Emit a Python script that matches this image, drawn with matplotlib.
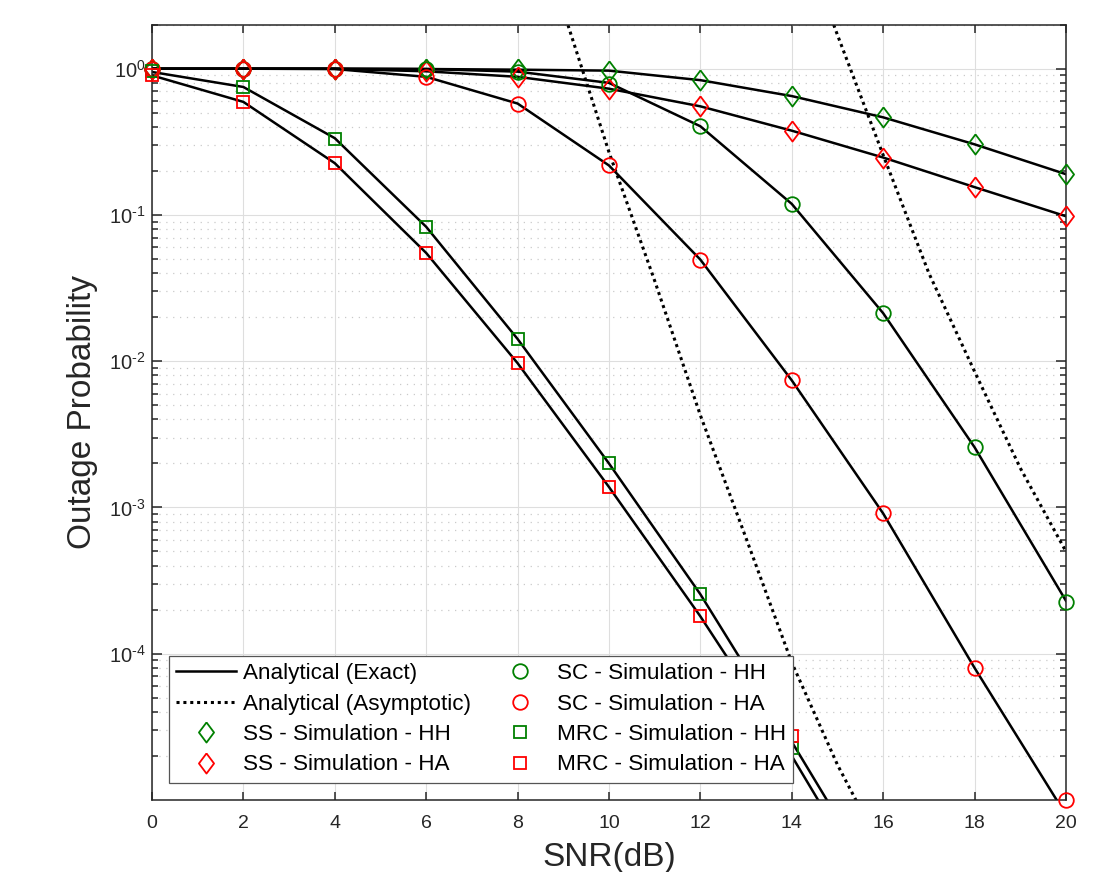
import matplotlib.pyplot as plt
import matplotlib.ticker as mticker
import numpy as np

plt.rcParams['font.family'] = ['Liberation Sans', 'DejaVu Sans']
plt.rcParams['mathtext.fontset'] = 'custom'
plt.rcParams['mathtext.rm'] = 'Liberation Sans'
plt.rcParams['mathtext.it'] = 'Liberation Sans:italic'
plt.rcParams['mathtext.default'] = 'regular'
plt.rcParams['axes.unicode_minus'] = False

# SNR grid (dB)
snr = [0, 2, 4, 6, 8, 10, 12, 14, 16, 18, 20]

# analytical (exact) curves
ss_hh_exact = [1.0, 1.0, 1.0, 0.995, 0.985, 0.97, 0.835, 0.65, 0.465, 0.304, 0.19]
ss_ha_exact = [1.0, 1.0, 0.998, 0.96, 0.88, 0.73, 0.553, 0.377, 0.247, 0.155, 0.098]
sc_hh_exact = [1.0, 1.0, 1.0, 0.995, 0.955, 0.80, 0.404, 0.119, 0.0213, 2.58e-3, 2.3e-4]
sc_ha_exact = [1.0, 1.0, 0.995, 0.88, 0.578, 0.218, 0.0495, 7.4e-3, 9.1e-4, 8.0e-5, 7.9e-6]
mrc_hh_exact = [0.95, 0.75, 0.335, 0.083, 0.0142, 2.0e-3, 2.55e-4, 2.5e-5, 2.3e-6, 2e-7, 2e-8]
mrc_ha_exact = [0.90, 0.593, 0.226, 0.055, 9.7e-3, 1.38e-3, 1.8e-4, 2.0e-5, 1.8e-6, 1.6e-7, 1.5e-8]

# analytical (asymptotic) curves
asym1_snr = [8, 9, 10, 11, 12, 13, 14, 15, 16]
asym1 = [23.4, 2.5, 0.269, 0.0355, 4.27e-3, 6.17e-4, 8.7e-5, 1.74e-5, 4.4e-6]
asym2_snr = [14, 15, 16, 17, 18, 19, 20]
asym2 = [12.0, 1.7, 0.257, 0.040, 8.5e-3, 1.86e-3, 5.0e-4]

# simulation points
ss_hh_sim = [1.0, 1.0, 1.0, 1.0, 0.99, 0.97, 0.835, 0.648, 0.465, 0.304, 0.19]
ss_ha_sim = [1.0, 1.0, 1.0, 0.96, 0.88, 0.73, 0.553, 0.377, 0.247, 0.155, 0.098]
sc_hh_sim = [1.0, 1.0, 1.0, 1.0, 0.95, 0.79, 0.404, 0.119, 0.0213, 2.58e-3, 2.25e-4]
sc_ha_sim = [1.0, 1.0, 1.0, 0.88, 0.578, 0.219, 0.0493, 7.4e-3, 9.1e-4, 8.0e-5, 1.0e-5]
mrc_snr = [0, 2, 4, 6, 8, 10, 12, 14]
mrc_hh_sim = [0.97, 0.75, 0.333, 0.0825, 0.0142, 2.0e-3, 2.58e-4, 2.25e-5]
mrc_ha_sim = [0.90, 0.593, 0.226, 0.055, 9.7e-3, 1.39e-3, 1.8e-4, 2.72e-5]

green = (0, 0.5, 0)
red = (1, 0, 0)
dark = '#262626'
# matlab style diamond (a bit wider than matplotlib 'd')
diamond = [(0, 1), (0.75, 0), (0, -1), (-0.75, 0), (0, 1)]


def pow10(v, pos):
    e = int(round(np.log10(v)))
    if e < 0:
        return r'$10^{\text{-}%d}$' % (-e)
    return r'$10^{%d}$' % e


fig = plt.figure(figsize=(11.02, 8.72), dpi=100)
ax = fig.add_axes([0.1379, 0.0826, 0.8294, 0.8891])

# exact lines
h_exact, = ax.plot(snr, ss_hh_exact, 'k-', lw=1.8, label='Analytical (Exact)')
for y in [ss_ha_exact, sc_hh_exact, sc_ha_exact, mrc_hh_exact, mrc_ha_exact]:
    ax.plot(snr, y, 'k-', lw=1.8)

# asymptotic lines
dots = (0, (1, 1.25))
h_asym, = ax.plot(asym1_snr, asym1, color='k', lw=2.2, ls=dots,
                  label='Analytical (Asymptotic)')
ax.plot(asym2_snr, asym2, color='k', lw=2.2, ls=dots)

# simulation markers
mk = dict(ls='none', mfc='none', mew=1.3, zorder=4, clip_on=False)
h1, = ax.plot(snr, ss_hh_sim, marker=diamond, ms=14.5, mec=green, label='SS - Simulation - HH', **mk)
h2, = ax.plot(snr, ss_ha_sim, marker=diamond, ms=14.5, mec=red, label='SS - Simulation - HA', **mk)
h3, = ax.plot(snr, sc_hh_sim, marker='o', ms=10.5, mec=green, label='SC - Simulation - HH', **mk)
h4, = ax.plot(snr, sc_ha_sim, marker='o', ms=10.5, mec=red, label='SC - Simulation - HA', **mk)
h5, = ax.plot(mrc_snr, mrc_hh_sim, marker='s', ms=9.3, mec=green, label='MRC - Simulation - HH', **mk)
h6, = ax.plot(mrc_snr, mrc_ha_sim, marker='s', ms=9.3, mec=red, label='MRC - Simulation - HA', **mk)

ax.set_yscale('log')
ax.set_xlim(0, 20)
ax.set_ylim(1e-5, 2)
ax.set_xticks(range(0, 21, 2))
ax.xaxis.set_minor_locator(mticker.NullLocator())
ax.yaxis.set_major_locator(mticker.FixedLocator([1e-4, 1e-3, 1e-2, 1e-1, 1]))
ax.yaxis.set_major_formatter(mticker.FuncFormatter(pow10))
ax.yaxis.set_minor_locator(mticker.LogLocator(base=10, subs=np.arange(2, 10), numticks=30))
ax.yaxis.set_minor_formatter(mticker.NullFormatter())

ax.tick_params(which='both', direction='in', top=True, right=True, color=dark,
               labelcolor=dark, width=1.1)
ax.tick_params(axis='x', which='major', length=6, labelsize=14, pad=10.5)
ax.tick_params(axis='y', which='major', length=7, labelsize=14.5, pad=4.5)
ax.tick_params(axis='y', which='minor', length=4)

ax.set_axisbelow(True)
ax.grid(True, which='major', color='#dedede', lw=0.8, ls='-')
ax.yaxis.grid(True, which='minor', color='#cacaca', lw=0.9, ls=(0, (1, 4.5)))

for s in ax.spines.values():
    s.set_color(dark)
    s.set_linewidth(1.1)

ax.set_xlabel('SNR(dB)', fontsize=24, color=dark)
ax.xaxis.set_label_coords(0.5, -0.054)
ax.set_ylabel('Outage Probability', fontsize=24, color=dark)
ax.yaxis.set_label_coords(-0.059, 0.5)

leg = ax.legend(handles=[h_exact, h_asym, h1, h2, h3, h4, h5, h6], ncol=2,
                loc='lower left', bbox_to_anchor=(0.0189, 0.0223), borderaxespad=0,
                fontsize=16.2, handlelength=2.65, handletextpad=0.33, columnspacing=0.82,
                labelspacing=0.42, borderpad=0.32, numpoints=1, fancybox=False,
                framealpha=1, edgecolor='#555555')
leg.get_frame().set_linewidth(0.9)
leg.set_zorder(10)

fig.savefig('out.png', dpi=100)
